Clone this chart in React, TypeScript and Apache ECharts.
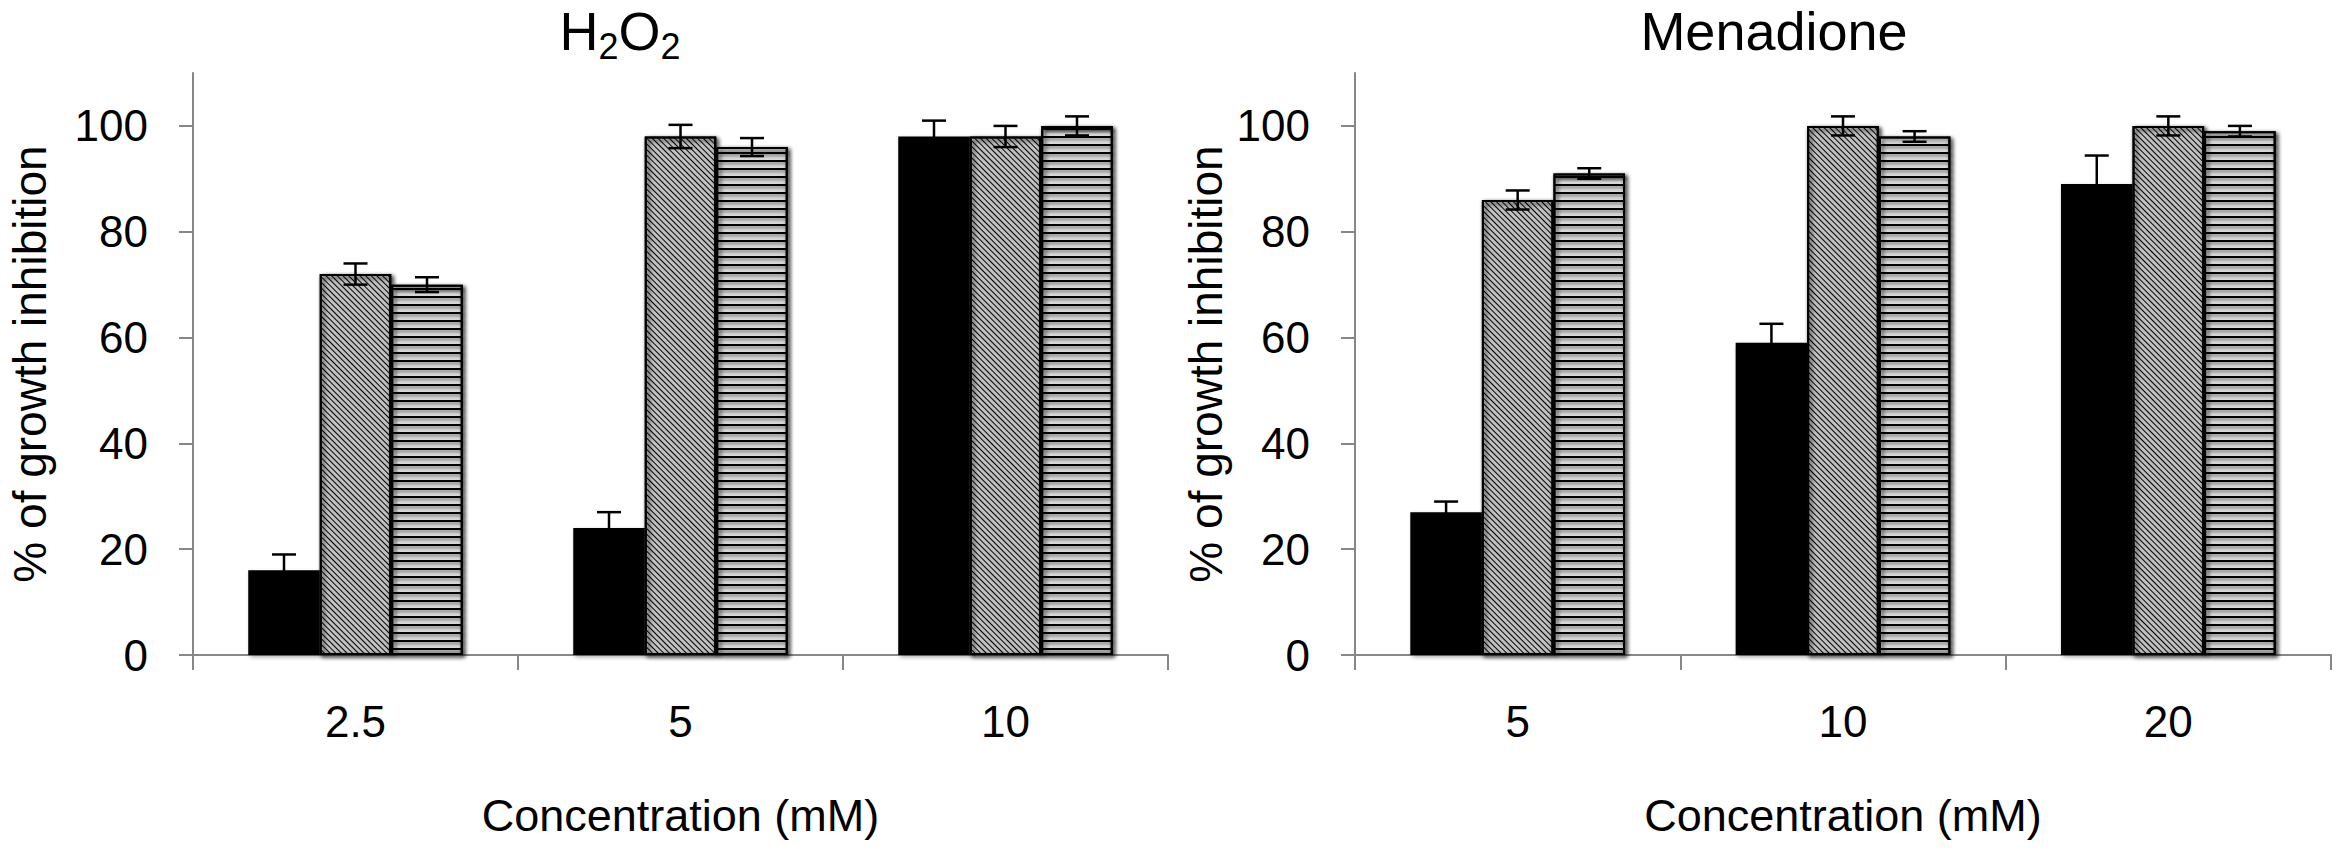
import React, { useEffect, useRef } from 'react';
import * as echarts from 'echarts';

// ---- data ----
const h2o2Categories = ['2.5', '5', '10'];
const menadioneCategories = ['5', '10', '20'];

const h2o2Black = [16, 24, 98];
const h2o2BlackErr = [3, 3, 3];
const h2o2Diag = [72, 98, 98];
const h2o2DiagErr = [2, 2.2, 2];
const h2o2Horiz = [70, 96, 100];
const h2o2HorizErr = [1.4, 1.7, 1.8];

const menBlack = [27, 59, 89];
const menBlackErr = [2, 3.6, 5.4];
const menDiag = [86, 100, 100];
const menDiagErr = [1.8, 1.8, 1.8];
const menHoriz = [91, 98, 99];
const menHorizErr = [1, 1, 1];

const yTicks = [0, 20, 40, 60, 80, 100];
const yMax = 110;

// ---- style ----
const FONT = "'Liberation Sans', Arial, Helvetica, sans-serif";
const AXIS_GRAY = '#878787';
const CAT_GAP = 0.34;

const barBase = {
  borderColor: '#000',
  borderWidth: 2,
  shadowBlur: 4,
  shadowColor: 'rgba(0,0,0,0.35)',
  shadowOffsetX: 2,
  shadowOffsetY: 2,
};

const seriesStyles = [
  { ...barBase, color: '#000' },
  {
    ...barBase,
    color: '#fff',
    decal: {
      symbol: 'rect',
      symbolSize: 1,
      symbolKeepAspect: false,
      color: '#000',
      dashArrayX: [10, 0],
      dashArrayY: [1, 3],
      rotation: Math.PI / 4,
    },
  },
  {
    ...barBase,
    color: '#fff',
    decal: {
      symbol: 'rect',
      symbolSize: 1,
      symbolKeepAspect: false,
      color: '#000',
      dashArrayX: [10, 0],
      dashArrayY: [2, 6],
      rotation: 0,
    },
  },
];

function makeYAxis(gridIndex: number, nameGap: number) {
  return {
    gridIndex,
    type: 'value',
    min: 0,
    max: yMax,
    interval: 20,
    axisLine: { show: true, lineStyle: { color: AXIS_GRAY, width: 2 } },
    axisTick: { show: true, length: 14, lineStyle: { color: AXIS_GRAY, width: 2 }, customValues: yTicks },
    axisLabel: {
      margin: 45,
      fontSize: 44,
      color: '#000',
      fontFamily: FONT,
      customValues: yTicks,
      formatter: (v: number) => (v > 100 ? '' : String(v)),
    },
    splitLine: { show: false },
    name: '% of growth inhibition',
    nameLocation: 'middle',
    nameRotate: 90,
    nameGap,
    nameTextStyle: { fontSize: 46, color: '#000', fontFamily: FONT },
  };
}

function makeXAxis(gridIndex: number, data: string[]) {
  return {
    gridIndex,
    type: 'category',
    data,
    axisLine: { show: true, lineStyle: { color: AXIS_GRAY, width: 2 } },
    axisTick: { show: true, length: 15, lineStyle: { color: AXIS_GRAY, width: 2 } },
    axisLabel: { margin: 44, fontSize: 44, color: '#000', fontFamily: FONT },
    name: 'Concentration (mM)',
    nameLocation: 'middle',
    nameGap: 138,
    nameTextStyle: { fontSize: 45, color: '#000', fontFamily: FONT },
  };
}

function barSeries(axisIndex: number, values: number[], styleIdx: number) {
  return {
    type: 'bar',
    xAxisIndex: axisIndex,
    yAxisIndex: axisIndex,
    data: values,
    barGap: '0%',
    barCategoryGap: CAT_GAP * 100 + '%',
    itemStyle: seriesStyles[styleIdx],
    emphasis: { disabled: true },
    z: 2,
  };
}

function errorSeries(axisIndex: number, groups: { v: number[]; e: number[] }[]) {
  const data: number[][] = [];
  groups.forEach((g, s) => {
    g.v.forEach((v, i) => data.push([i, s, v, g.e[i]]));
  });
  return {
    type: 'custom',
    xAxisIndex: axisIndex,
    yAxisIndex: axisIndex,
    data,
    encode: { x: 0, y: 2 },
    z: 5,
    clip: false,
    silent: true,
    renderItem: (params: any, api: any) => {
      const cat = api.value(0);
      const s = api.value(1);
      const v = api.value(2);
      const e = api.value(3);
      const catW = api.size([1, 0])[0];
      const barW = (catW * (1 - CAT_GAP)) / 3;
      const c = api.coord([cat, v]);
      const x = c[0] + (s - 1) * barW;
      const top = api.coord([cat, v + e])[1];
      const bot = api.coord([cat, v - e])[1];
      const hw = 12;
      const st = { stroke: '#000', lineWidth: 2.5 };
      return {
        type: 'group',
        children: [
          { type: 'line', shape: { x1: x, y1: top, x2: x, y2: bot }, style: st },
          { type: 'line', shape: { x1: x - hw, y1: top, x2: x + hw, y2: top }, style: st },
          { type: 'line', shape: { x1: x - hw, y1: bot, x2: x + hw, y2: bot }, style: st },
        ],
      };
    },
  };
}

export default function App() {
  const ref = useRef<HTMLDivElement>(null);

  useEffect(() => {
    if (!ref.current) return;
    const chart = echarts.init(ref.current, undefined, { renderer: 'svg' });
    const option: any = {
      animation: false,
      backgroundColor: '#fff',
      graphic: [
        {
          type: 'text',
          x: 620,
          y: -2,
          style: {
            text: '{n|H}{s|2}{n|O}{s|2}',
            align: 'center',
            verticalAlign: 'top',
            rich: {
              n: { fontSize: 54, fontFamily: FONT, fill: '#000', lineHeight: 66, verticalAlign: 'middle' },
              s: { fontSize: 36, fontFamily: FONT, fill: '#000', lineHeight: 34, verticalAlign: 'bottom' },
            },
          },
        },
        {
          type: 'text',
          x: 1774,
          y: -2,
          style: {
            text: 'Menadione',
            align: 'center',
            verticalAlign: 'top',
            fontSize: 54,
            fontFamily: FONT,
            fill: '#000',
            lineHeight: 66,
          },
        },
      ],
      grid: [
        { left: 193, top: 73, width: 975, height: 582, outerBoundsMode: 'none', containLabel: false },
        { left: 1355, top: 73, width: 976, height: 582, outerBoundsMode: 'none', containLabel: false },
      ],
      xAxis: [makeXAxis(0, h2o2Categories), makeXAxis(1, menadioneCategories)],
      yAxis: [makeYAxis(0, 140), makeYAxis(1, 126)],
      series: [
        barSeries(0, h2o2Black, 0),
        barSeries(0, h2o2Diag, 1),
        barSeries(0, h2o2Horiz, 2),
        errorSeries(0, [
          { v: h2o2Black, e: h2o2BlackErr },
          { v: h2o2Diag, e: h2o2DiagErr },
          { v: h2o2Horiz, e: h2o2HorizErr },
        ]),
        barSeries(1, menBlack, 0),
        barSeries(1, menDiag, 1),
        barSeries(1, menHoriz, 2),
        errorSeries(1, [
          { v: menBlack, e: menBlackErr },
          { v: menDiag, e: menDiagErr },
          { v: menHoriz, e: menHorizErr },
        ]),
      ],
    };
    chart.setOption(option);
    return () => chart.dispose();
  }, []);

  return (
    <div
      ref={ref}
      style={{ position: 'fixed', left: 0, top: 0, width: 2341, height: 851, background: '#fff' }}
    />
  );
}
